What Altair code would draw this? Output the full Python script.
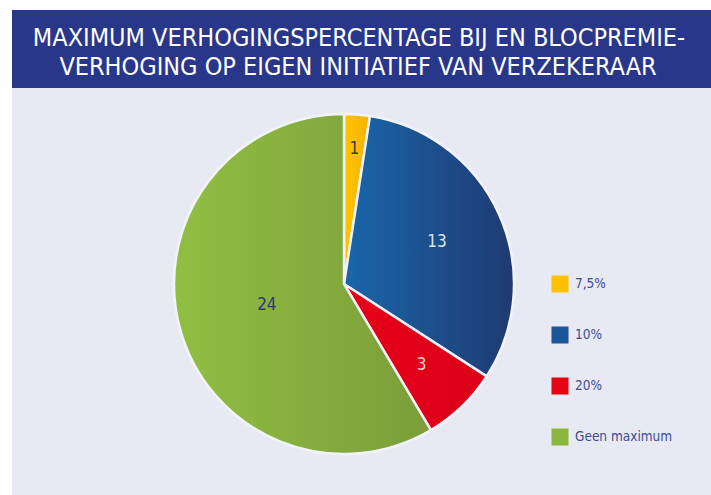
import altair as alt
import pandas as pd

categories = ["7,5%", "10%", "20%", "Geen maximum"]
values = [1, 13, 3, 24]
order = [0, 1, 2, 3]
colors = ["#ffc000", "#1c5598", "#e30613", "#8ab63f"]
title_lines = ["MAXIMUM VERHOGINGSPERCENTAGE BIJ EN BLOCPREMIE-",
               "VERHOGING OP EIGEN INITIATIEF VAN VERZEKERAAR"]

df = pd.DataFrame({"cat": categories, "value": values, "ord": order})
total = sum(values)

W, H = 711, 495
CX, CY, R = 344, 284, 170
FONT = "Liberation Sans Narrow, DejaVu Sans Condensed, Roboto"

def grad(c1, c2):
    return {"gradient": "linear", "x1": 0, "y1": 0, "x2": 1, "y2": 0,
            "stops": [{"offset": 0, "color": c1}, {"offset": 1, "color": c2}]}

gradients = {
    "7,5%": grad("#ffc400", "#f9b200"),
    "10%": grad("#1a66ab", "#1f3a71"),
    "20%": grad("#e8001a", "#dc0019"),
    "Geen maximum": grad("#90bf43", "#7c9d39"),
}

bg = alt.Chart(pd.DataFrame({"a": [0]})).mark_rect(color="#e8eaf3").encode(
    x=alt.value(12), x2=alt.value(W), y=alt.value(88), y2=alt.value(H))
banner = alt.Chart(pd.DataFrame({"a": [0]})).mark_rect(color="#29378a").encode(
    x=alt.value(12), x2=alt.value(W), y=alt.value(10), y2=alt.value(88))

title_df = pd.DataFrame({"t": title_lines, "i": [0, 1]})
title1 = alt.Chart(title_df).transform_filter("datum.i == 0").mark_text(
    font=FONT, fontSize=25, fontWeight=300, color="white", align="center", baseline="middle"
).encode(text="t:N", x=alt.value(359), y=alt.value(38))
title2 = alt.Chart(title_df).transform_filter("datum.i == 1").mark_text(
    font=FONT, fontSize=25, fontWeight=300, color="white", align="center", baseline="middle"
).encode(text="t:N", x=alt.value(358), y=alt.value(67))

base = alt.Chart(df).transform_window(
    cum="sum(value)", sort=[alt.SortField("ord")], frame=[None, 0]
).transform_calculate(start="datum.cum - datum.value", mid="datum.cum - datum.value/2")

theta_scale = alt.Scale(domain=[0, total], range=[0, 6.283185307])

pie_base = base.mark_arc(outerRadius=R, stroke="#f2f3f8", strokeWidth=2.5).encode(
    theta=alt.Theta("start:Q", scale=theta_scale, stack=None),
    theta2="cum:Q",
    color=alt.Color("cat:N", scale=alt.Scale(domain=categories, range=colors),
                    sort=categories,
                    legend=alt.Legend(title=None, orient="none", legendX=551, legendY=275,
                                      symbolType="square", symbolSize=290, symbolStrokeWidth=0,
                                      rowPadding=33, labelFont=FONT, labelFontSize=13.5,
                                      labelColor="#3d4c94", labelOffset=6, symbolOpacity=1)),
    x=alt.value(CX), y=alt.value(CY),
)

grad_layers = []
for c in categories:
    grad_layers.append(
        base.transform_filter(alt.datum.cat == c).mark_arc(
            outerRadius=R, stroke="#f2f3f8", strokeWidth=2.5, fill=gradients[c]
        ).encode(
            theta=alt.Theta("start:Q", scale=theta_scale, stack=None),
            theta2="cum:Q",
            x=alt.value(CX), y=alt.value(CY),
        )
    )

label_radius = {"7,5%": 135, "10%": 102, "20%": 112, "Geen maximum": 80}
label_color = {"7,5%": "#3a3a3a", "10%": "#dfe3f0", "20%": "#f4d0d4", "Geen maximum": "#2f3b70"}
label_layers = []
for c in categories:
    label_layers.append(
        base.transform_filter(alt.datum.cat == c).mark_text(
            font=FONT, fontSize=17, color=label_color[c], radius=label_radius[c],
            align="center", baseline="middle"
        ).encode(
            theta=alt.Theta("mid:Q", scale=theta_scale, stack=None),
            text="value:Q",
            x=alt.value(CX), y=alt.value(CY),
        )
    )

chart = alt.layer(bg, banner, title1, title2, pie_base, *grad_layers, *label_layers).properties(
    width=W, height=H, padding=0, autosize=alt.AutoSizeParams(type="none"),
    background="white"
).configure_view(stroke=None)

chart.save("out.html", embed_options={"renderer": "svg", "actions": False})
